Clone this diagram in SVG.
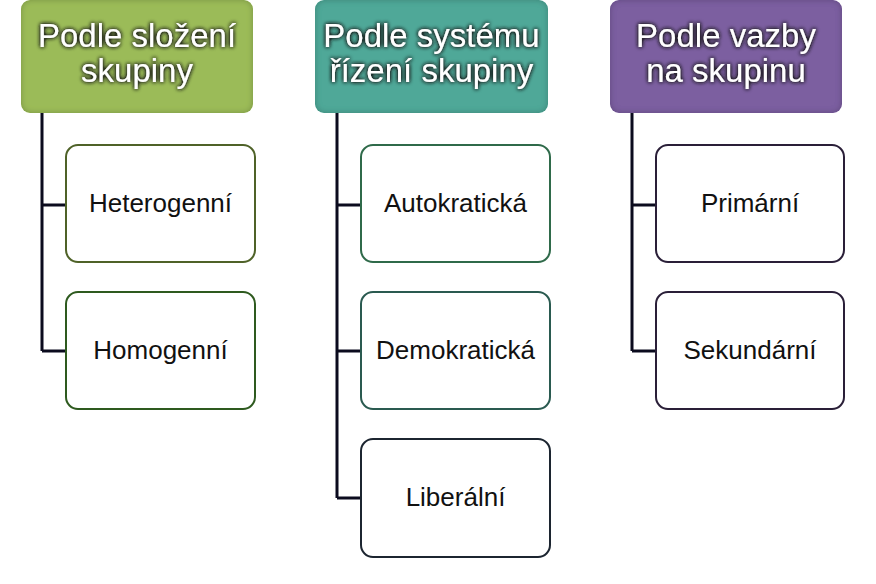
<svg xmlns="http://www.w3.org/2000/svg" width="876" height="584" viewBox="0 0 876 584">
<defs>
<filter id="glow" x="-20%" y="-30%" width="140%" height="160%">
<feGaussianBlur in="SourceAlpha" stdDeviation="2.2" result="b"/>
<feComponentTransfer in="b" result="b2"><feFuncA type="linear" slope="2.2"/></feComponentTransfer>
<feFlood flood-color="#151515" flood-opacity="0.8"/>
<feComposite in2="b2" operator="in" result="s"/>
<feMerge><feMergeNode in="s"/><feMergeNode in="SourceGraphic"/></feMerge>
</filter>
<filter id="inner" x="-5%" y="-5%" width="110%" height="110%">
<feGaussianBlur in="SourceAlpha" stdDeviation="3" result="b"/>
<feComposite in="SourceAlpha" in2="b" operator="arithmetic" k2="1" k3="-1" result="edge"/>
<feFlood flood-color="#000" flood-opacity="0.45"/>
<feComposite in2="edge" operator="in" result="e"/>
<feMerge><feMergeNode in="SourceGraphic"/><feMergeNode in="e"/></feMerge>
</filter>
</defs>
<style>
.hdr{filter:url(#inner);}
.ht{font-family:"Liberation Sans",Arial,sans-serif;font-size:33px;fill:#fff;text-anchor:middle;filter:url(#glow);}
.box{fill:#fff;stroke-width:2;}
.ct{font-family:"Liberation Sans",Arial,sans-serif;font-size:26px;fill:#111;text-anchor:middle;}
.con{fill:none;stroke:#0b0b1e;stroke-width:3;}
</style>
<rect width="876" height="584" fill="#fff"/>
<g id="connectors">
<path class="con" d="M42,113 V351 M42,205 H66 M42,351 H66"/>
<path class="con" d="M337,113 V498 M337,205 H361 M337,351 H361 M337,498 H361"/>
<path class="con" d="M632,113 V351 M632,205 H656 M632,351 H656"/>
</g>
<g id="h1">
<rect class="hdr" x="21" y="0" width="232" height="113" rx="9" fill="#9bbb59"/>
<text class="ht" x="137" y="47">Podle složení</text>
<text class="ht" x="137" y="82">skupiny</text>
</g>
<g id="h2">
<rect class="hdr" x="315" y="0" width="233" height="113" rx="9" fill="#4fa898"/>
<text class="ht" x="431.5" y="47">Podle systému</text>
<text class="ht" x="431.5" y="82">řízení skupiny</text>
</g>
<g id="h3">
<rect class="hdr" x="610" y="0" width="232" height="113" rx="9" fill="#7c5ea0"/>
<text class="ht" x="726" y="47">Podle vazby</text>
<text class="ht" x="726" y="82">na skupinu</text>
</g>
<g id="n1a"><rect class="box" x="66" y="145" width="189" height="117" rx="12" stroke="#4f6228"/><text class="ct" x="160.5" y="212">Heterogenní</text></g>
<g id="n1b"><rect class="box" x="66" y="292" width="189" height="117" rx="12" stroke="#2e5a1f"/><text class="ct" x="160.5" y="359">Homogenní</text></g>
<g id="n2a"><rect class="box" x="361" y="145" width="189" height="117" rx="12" stroke="#2f6a4a"/><text class="ct" x="455.5" y="212">Autokratická</text></g>
<g id="n2b"><rect class="box" x="361" y="292" width="189" height="117" rx="12" stroke="#2a5a50"/><text class="ct" x="455.5" y="359">Demokratická</text></g>
<g id="n2c"><rect class="box" x="361" y="439" width="189" height="118" rx="12" stroke="#1c2530"/><text class="ct" x="455.5" y="506">Liberální</text></g>
<g id="n3a"><rect class="box" x="656" y="145" width="188" height="117" rx="12" stroke="#2a1f38"/><text class="ct" x="750" y="212">Primární</text></g>
<g id="n3b"><rect class="box" x="656" y="292" width="188" height="117" rx="12" stroke="#2a1f38"/><text class="ct" x="750" y="359">Sekundární</text></g>
</svg>
